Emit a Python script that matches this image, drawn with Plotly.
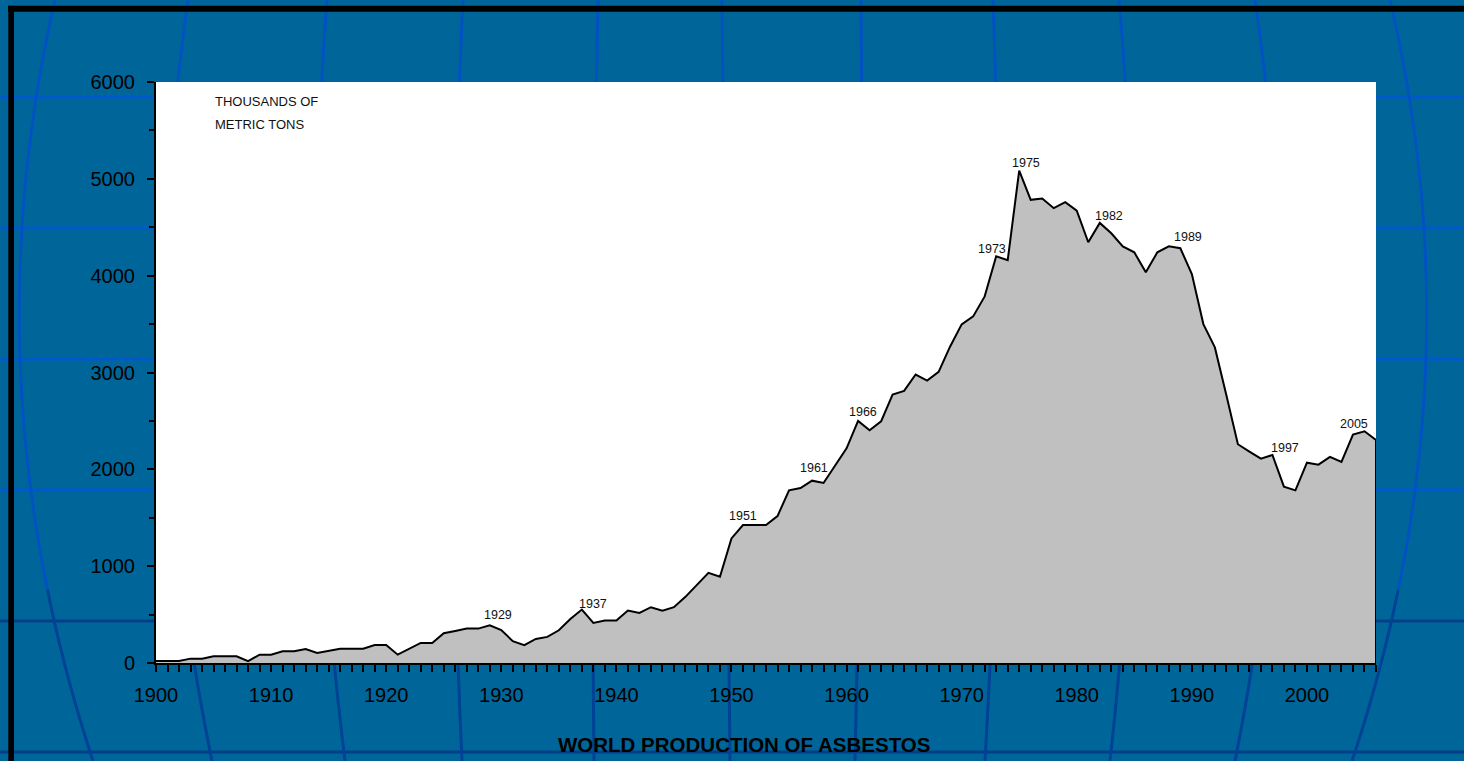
import plotly.graph_objects as go

# ---------------- data ----------------
years = list(range(1900, 2007))
production = [
    20, 20, 20, 45, 45, 69, 69, 69, 20, 86,          # 1900-1909
    86, 121, 121, 145, 103, 128, 148, 148, 148, 186,  # 1910-1919
    186, 86, 145, 207, 207, 307, 331, 355, 355, 390,  # 1920-1929
    340, 226, 185, 248, 270, 338, 455, 552, 414, 438, # 1930-1939
    438, 541, 517, 576, 541, 576, 683, 810, 931, 890, # 1940-1949
    1286, 1424, 1424, 1424, 1517, 1783, 1807, 1883, 1859, 2040,  # 1950-1959
    2217, 2500, 2403, 2495, 2772, 2810, 2979, 2917, 3007, 3269,  # 1960-1969
    3497, 3579, 3786, 4200, 4159, 5086, 4783, 4797, 4697, 4759,  # 1970-1979
    4672, 4345, 4545, 4438, 4303, 4241, 4034, 4241, 4303, 4283,  # 1980-1989
    4017, 3500, 3259, 2766, 2259, 2183, 2110, 2148, 1821, 1783,  # 1990-1999
    2069, 2048, 2128, 2076, 2359, 2393, 2303,                    # 2000-2006
]

label_text = ["1929", "1937", "1951", "1961", "1966", "1973", "1975",
              "1982", "1989", "1997", "2005"]
label_x = [1929.7, 1937.97, 1951.0, 1957.2, 1961.45, 1972.6, 1975.57,
           1982.84, 1989.65, 1998.1, 2004.06]
label_y = [500, 610, 1516, 2009, 2596, 4274, 5160, 4618, 4395, 2223, 2471]

y_ticks = [0, 1000, 2000, 3000, 4000, 5000, 6000]
x_ticks = [1900, 1910, 1920, 1930, 1940, 1950, 1960, 1970, 1980, 1990, 2000]

# ---------------- layout geometry ----------------
W, H = 1464, 761
ML, MR, MT, MB = 156, 88, 82, 98
PW, PH = W - ML - MR, H - MT - MB


def px(x):
    return (x - ML) / PW


def py(y):
    return (H - MB - y) / PH


BG = "#006699"
LIGHT = "rgb(0,88,205)"
DARK = "rgb(0,62,135)"
MER_LIGHT = "rgb(0,82,195)"
MER_DARK = "rgb(0,66,150)"
FONT = "Liberation Sans, Arial, sans-serif"

shapes = []
# horizontal globe lines
for yy, col in [(97, LIGHT), (228, LIGHT), (359, LIGHT), (490, LIGHT),
                (621, DARK), (752, DARK)]:
    shapes.append(dict(type="line", xref="paper", yref="paper",
                       x0=px(0), x1=px(W), y0=py(yy), y1=py(yy),
                       line=dict(color=col, width=3), layer="below"))

# meridians (quadratic curves)
tops = [55, 188, 327, 463, 598, 722, 861, 993, 1119, 1255, 1390]
bottoms = [93, 212, 345, 462, 594, 730, 855, 985, 1110, 1235, 1352]
devs = [-53, -33, -19, -9, -3, 0, 3, 9, 19, 33, 54]
for xt, xb, d in zip(tops, bottoms, devs):
    c = (xt + xb) / 2 + 2 * d
    pts = []
    n = 40
    for i in range(n + 1):
        t = i / n
        xx = (1 - t) ** 2 * xt + 2 * t * (1 - t) * c + t ** 2 * xb
        yy = H * t
        pts.append((xx, yy))
    upper = [p for p in pts if p[1] <= 600]
    lower = [p for p in pts if p[1] >= 580]
    for seg, col in [(upper, MER_LIGHT), (lower, MER_DARK)]:
        path = "M " + " L ".join(f"{px(a):.5f},{py(b):.5f}" for a, b in seg)
        shapes.append(dict(type="path", xref="paper", yref="paper", path=path,
                           line=dict(color=col, width=3), layer="below"))

# white plot area
shapes.append(dict(type="rect", xref="paper", yref="paper", x0=0, x1=1, y0=0, y1=1,
                   fillcolor="white", line=dict(width=0), layer="below"))
# black frame (top and left)
shapes.append(dict(type="rect", xref="paper", yref="paper",
                   x0=px(8), x1=px(W + 5), y0=py(5.7), y1=py(11.7),
                   fillcolor="black", line=dict(width=0), layer="below"))
shapes.append(dict(type="rect", xref="paper", yref="paper",
                   x0=px(8.3), x1=px(14), y0=py(5.7), y1=py(H + 5),
                   fillcolor="black", line=dict(width=0), layer="below"))

fig = go.Figure()
fig.add_trace(go.Scatter(
    x=years + [years[-1]], y=production + [0],
    mode="lines", fill="tozeroy", fillcolor="#c0c0c0",
    line=dict(color="black", width=2), hoverinfo="x+y", showlegend=False,
))

annotations = []
for t, xx, yy in zip(label_text, label_x, label_y):
    annotations.append(dict(x=xx, y=yy, xref="x", yref="y", text=t, showarrow=False,
                            font=dict(family=FONT, size=12.5, color="#111"),
                            xanchor="center", yanchor="middle"))
annotations.append(dict(x=px(213), y=py(101.7), xref="paper", yref="paper",
                        text="THOUSANDS OF", showarrow=False, xanchor="left",
                        yanchor="middle", font=dict(family=FONT, size=13, color="#111")))
annotations.append(dict(x=px(213), y=py(124), xref="paper", yref="paper",
                        text="METRIC TONS", showarrow=False, xanchor="left",
                        yanchor="middle", font=dict(family=FONT, size=13, color="#111")))
annotations.append(dict(x=px(744), y=py(744), xref="paper", yref="paper",
                        text="<b>WORLD PRODUCTION OF ASBESTOS</b>", showarrow=False,
                        xanchor="center", yanchor="middle",
                        font=dict(family=FONT, size=20.5, color="black")))

fig.update_layout(
    width=W, height=H,
    margin=dict(l=ML, r=MR, t=MT, b=MB, pad=0),
    paper_bgcolor=BG, plot_bgcolor="white",
    shapes=shapes, annotations=annotations,
    font=dict(family=FONT, color="black"),
    xaxis=dict(range=[1900, 2006], tickvals=x_ticks, ticks="outside", ticklen=7,
               tickwidth=2, tickcolor="black", showline=True, linecolor="black",
               linewidth=2, showgrid=False, zeroline=False,
               tickfont=dict(family=FONT, size=20, color="black"),
               ticklabelstandoff=6,
               minor=dict(dtick=1, tick0=1900, ticks="outside", ticklen=7,
                          tickwidth=2, tickcolor="black", showgrid=False)),
    yaxis=dict(range=[0, 6000], tickvals=y_ticks, ticks="outside", ticklen=7,
               tickwidth=2, tickcolor="black", showline=True, linecolor="black",
               linewidth=2, showgrid=False, zeroline=False,
               tickfont=dict(family=FONT, size=20, color="black"),
               ticklabelstandoff=8,
               minor=dict(dtick=500, tick0=0, ticks="outside", ticklen=5,
                          tickwidth=2, tickcolor="black", showgrid=False)),
)

fig.write_html("out.html",
               config={"displayModeBar": False},
               post_script="document.body.style.margin='0px';"
                           "document.body.style.overflow='hidden';")
